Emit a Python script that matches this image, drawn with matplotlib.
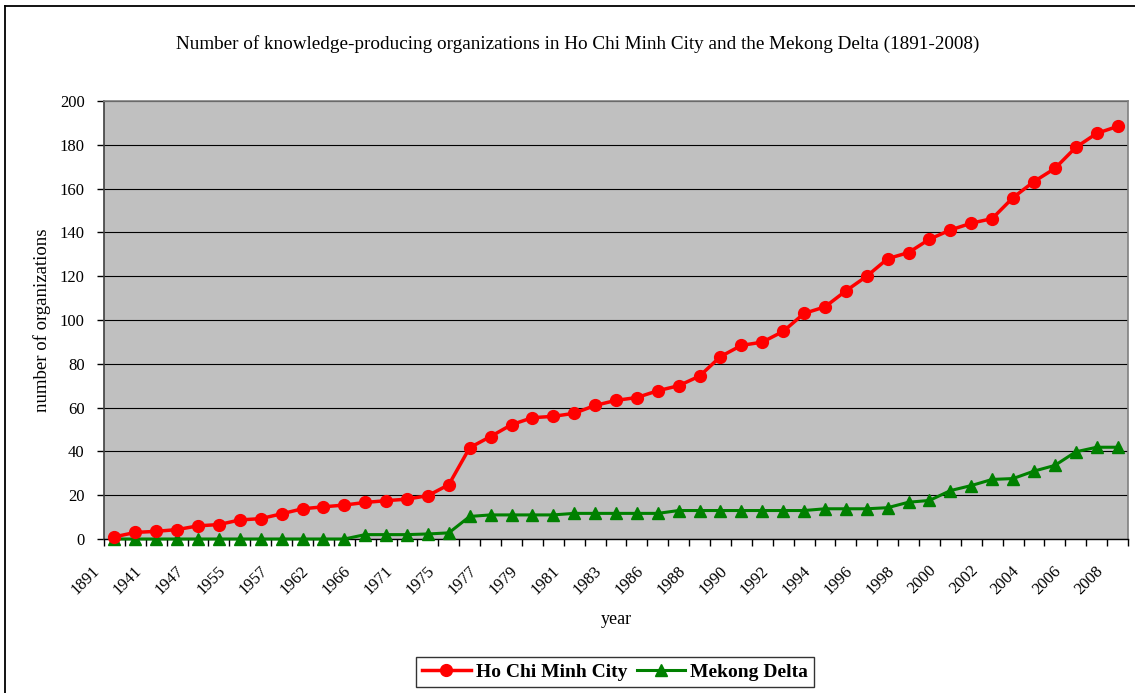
import numpy as np
import matplotlib.pyplot as plt
from matplotlib.lines import Line2D
import matplotlib.transforms as mtransforms

# categories (only every other one is labelled on the chart)
years = ["1891", "1940", "1941", "1945", "1947", "1954", "1955", "1956",
         "1957", "1960", "1962", "1964", "1966", "1968", "1971", "1972",
         "1975", "1976", "1977", "1978", "1979", "1980", "1981", "1982",
         "1983", "1985", "1986", "1987", "1988", "1989", "1990", "1991",
         "1992", "1993", "1994", "1995", "1996", "1997", "1998", "1999",
         "2000", "2001", "2002", "2003", "2004", "2005", "2006", "2007",
         "2008"]

hcmc = [1, 3, 3.5, 4.3, 6, 6.6, 8.7, 9.3, 11.5, 13.8, 14.7, 15.5, 16.7, 17.5,
        18.2, 19.8, 24.8, 41.7, 46.8, 52.2, 55.4, 56, 57.4, 61, 63.3, 64.6,
        67.7, 70, 74.4, 83.3, 88.4, 89.9, 94.8, 103, 106, 113.3, 120, 128,
        130.8, 136.9, 141.1, 144.2, 146.3, 155.9, 163.2, 169.2, 178.8, 185.2,
        188.4]

mekong = [0, 0, 0, 0, 0, 0, 0, 0, 0, 0, 0, 0, 2, 2, 2, 2.3, 2.8, 10.3, 11, 11,
          11, 11, 11.7, 11.7, 11.7, 11.7, 11.7, 13, 13, 13, 13, 13, 13, 13,
          13.8, 13.8, 13.8, 14.3, 16.8, 17.6, 22.1, 24.4, 27.2, 27.6, 31,
          33.6, 39.8, 41.9, 41.9]

W, H = 1135, 693
plt.rcParams['font.family'] = ['Liberation Serif', 'DejaVu Serif']

fig = plt.figure(figsize=(W / 100, H / 100), dpi=100)
ax = fig.add_axes([104 / W, 1 - 539 / H, (1128 - 104) / W, (539 - 101) / H])
ax.set_facecolor('#C0C0C0')

x = np.arange(len(years))
ax.plot(x, hcmc, color='#FF0000', lw=2.5, marker='o', ms=8.5,
        label='Ho Chi Minh City', clip_on=False, zorder=4)
ax.plot(x, mekong, color='#008000', lw=2.2, marker='^', ms=9,
        label='Mekong Delta', clip_on=False, zorder=3)

ax.set_xlim(-0.5, len(years) - 0.5)
ax.set_ylim(0, 200)
ax.set_yticks(np.arange(0, 201, 20))
ax.yaxis.grid(True, color='black', lw=0.8)
ax.set_axisbelow(True)
ax.tick_params(axis='y', direction='out', length=5, width=1, pad=9,
               labelsize=12, color='black')

# ticks between categories, labels on every other category
ax.set_xticks(np.arange(-0.5, len(years), 1), minor=True)
ax.set_xticks(x[::2])
ax.set_xticklabels(years[::2], rotation=45, ha='right', va='top', fontsize=12)
ax.tick_params(axis='x', which='major', length=0, pad=17)
ax.tick_params(axis='x', which='minor', direction='out', length=5, width=1,
               color='black')
off = mtransforms.ScaledTranslation(-8 / 72, 0, fig.dpi_scale_trans)
for lab in ax.get_xticklabels():
    lab.set_transform(lab.get_transform() + off)

for side in ['top', 'right']:
    ax.spines[side].set_color('#808080')
    ax.spines[side].set_linewidth(1.2)
ax.spines['left'].set_color('#404040')
ax.spines['left'].set_linewidth(1.2)
ax.spines['bottom'].set_color('black')
ax.spines['bottom'].set_linewidth(1)

fig.text(578 / W, 1 - 44 / H,
         'Number of knowledge-producing organizations in Ho Chi Minh City '
         'and the Mekong Delta (1891-2008)',
         ha='center', va='center', fontsize=13.8)
fig.text(42 / W, 1 - 320 / H, 'number of organizations', rotation=90,
         ha='center', va='center', fontsize=13.5)
fig.text(616 / W, 1 - 620 / H, 'year', ha='center', va='center', fontsize=13)

leg = fig.legend(loc='center', bbox_to_anchor=(615 / W, 1 - 672 / H), ncol=2,
                 frameon=True, fancybox=False, edgecolor='black',
                 prop={'weight': 'bold', 'size': 14}, handlelength=2.5,
                 columnspacing=0.5, handletextpad=0.25, borderpad=0.3,
                 borderaxespad=0)
leg.get_frame().set_linewidth(1)

# outer chart border (only top and left fall inside the picture)
fig.add_artist(Line2D([5 / W, 1.0], [1 - 6 / H, 1 - 6 / H],
                      transform=fig.transFigure, color='black', lw=1.3))
fig.add_artist(Line2D([5 / W, 5 / W], [0, 1 - 6 / H],
                      transform=fig.transFigure, color='black', lw=1.3))

fig.savefig('out.png', dpi=100)
